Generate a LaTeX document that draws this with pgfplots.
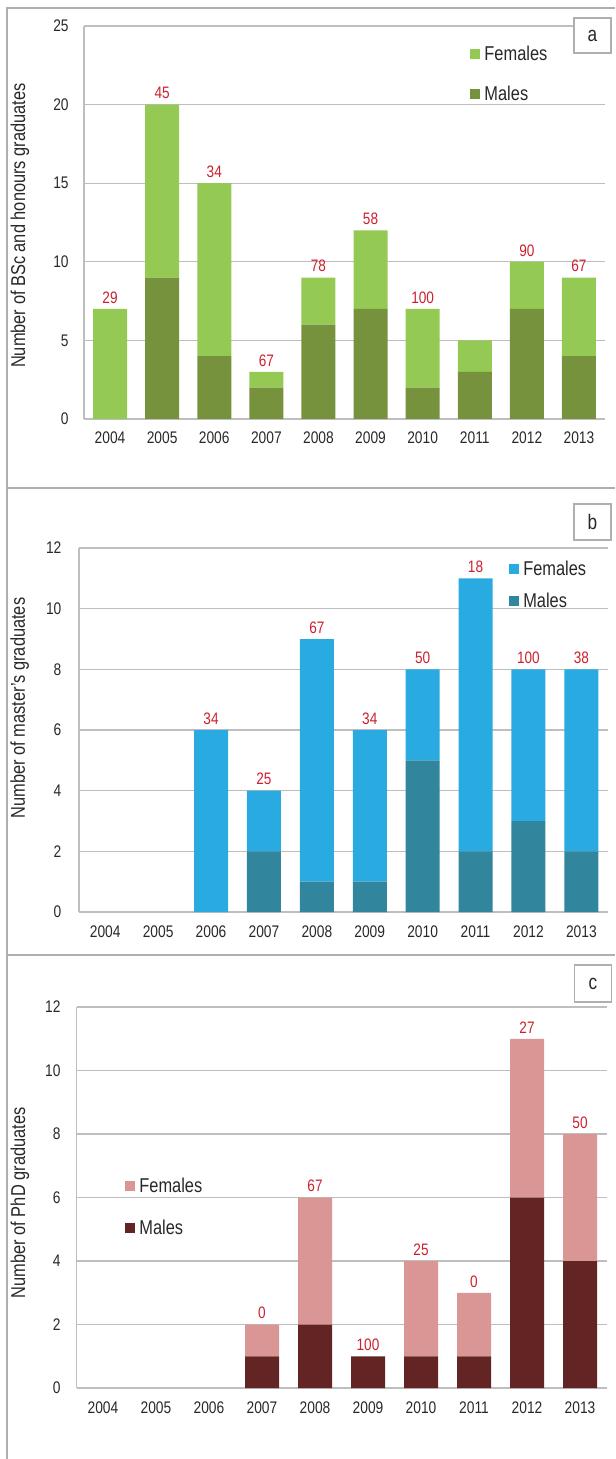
\documentclass[border=0pt]{standalone}
\usepackage{pgfplots}
\usepackage{pgfplotstable}
\pgfplotsset{compat=1.18}
\usepackage{fontspec}
\setmainfont{Liberation Sans}[FakeStretch=0.82]

\definecolor{femA}{RGB}{148,201,84}
\definecolor{malA}{RGB}{119,146,60}
\definecolor{femB}{RGB}{41,171,226}
\definecolor{malB}{RGB}{49,133,156}
\definecolor{femC}{RGB}{217,150,148}
\definecolor{malC}{RGB}{99,37,35}
\definecolor{lblred}{RGB}{204,32,46}
\definecolor{txt}{RGB}{40,40,40}
\definecolor{gridc}{RGB}{190,190,190}
\definecolor{framec}{RGB}{175,175,175}

% x = year index (0 = 2004), pct = red label above each bar
\pgfplotstableread{
x males females total pct
0 0 7  7  29
1 9 11 20 45
2 4 11 15 34
3 2 1  3  67
4 6 3  9  78
5 7 5  12 58
6 2 5  7  100
7 3 2  5  {}
8 7 3  10 90
9 4 5  9  67
}\bsc

\pgfplotstableread{
x males females total pct
2 0 6 6  34
3 2 2 4  25
4 1 8 9  67
5 1 5 6  34
6 5 3 8  50
7 2 9 11 18
8 3 5 8  100
9 2 6 8  38
}\masters

\pgfplotstableread{
x males females total pct
3 1 1 2  0
4 2 4 6  67
5 1 0 1  100
6 1 3 4  25
7 1 2 3  0
8 6 5 11 27
9 4 4 8  50
}\phd

\pgfplotsset{
  sqlegend/.style={legend image code/.code={\fill[##1] (0pt,-2pt) rectangle (5pt,3pt);}},
  geomA/.style={at={(42pt,-209.5pt)}, width=260.5pt, height=196.5pt, ymax=25},
  geomB/.style={at={(39.4pt,-456pt)}, width=264.5pt, height=182pt, ymax=12},
  geomC/.style={at={(38.25pt,-694pt)}, width=265pt, height=190.5pt, ymax=12},
  base/.style={scale only axis, anchor=south west, xmin=-0.5, xmax=9.5, ymin=0},
  grad/.style={
    base,
    ybar stacked, bar width=17pt,
    xtick={0,...,9},
    xticklabels={2004,2005,2006,2007,2008,2009,2010,2011,2012,2013},
    axis x line*=bottom, axis y line*=left,
    axis line style={draw=gridc, line width=0.7pt},
    ymajorgrids, grid style={draw=gridc, line width=0.6pt},
    major tick length=0pt,
    tick label style={font=\fontsize{8.4}{10}\selectfont, text=txt},
    xticklabel style={anchor=base, yshift=-12.5pt, inner sep=0pt},
    yticklabel style={anchor=east, inner sep=0pt},
    /pgf/number format/assume math mode=true,
    ylabel style={font=\fontsize{10}{12}\selectfont, text=txt, anchor=center, inner sep=0pt},
    sqlegend,
    reverse legend,
    legend cell align=left,
    legend style={draw=none, fill=none, inner sep=0pt, column sep=2pt,
      font=\fontsize{10}{12}\selectfont, text=txt, nodes={inner sep=0pt}},
  },
  labels/.style={base, hide axis},
  male/.style={fill=#1, draw=none, sqlegend},
  female/.style={fill=#1, draw=none, sqlegend},
  pctlabel/.style={draw=none, mark=none, nodes near coords, point meta=explicit symbolic,
    every node near coord/.append style={font=\fontsize{8.3}{10}\selectfont,
      text=lblred, inner sep=0pt, anchor=south, yshift=2.6pt}},
}

\begin{document}
\begin{tikzpicture}
\useasboundingbox (0pt,0pt) rectangle (307.5pt,-729.5pt);

% panel a
\begin{axis}[grad, geomA,
  ytick={0,5,...,25},
  yticklabel style={xshift=-7.5pt},
  ylabel={Number of BSc and honours graduates},
  ylabel style={at={(axis description cs:-0.1228,0.492)}},
  legend style={at={(axis description cs:0.741,0.949)}, anchor=north west, row sep=11.2pt},
]
\addplot[male=malA] table[x=x, y=males] {\bsc};
\addlegendentry{Males}
\addplot[female=femA] table[x=x, y=females] {\bsc};
\addlegendentry{Females}
\end{axis}
\begin{axis}[labels, geomA]
\addplot[pctlabel] table[x=x, y=total, meta=pct] {\bsc};
\end{axis}

% panel b
\begin{axis}[grad, geomB,
  ytick={0,2,...,12},
  yticklabel style={xshift=-8.5pt},
  ylabel={Number of master's graduates},
  ylabel style={at={(axis description cs:-0.1115,0.56)}},
  legend style={at={(axis description cs:0.813,0.964)}, anchor=north west, row sep=7.2pt},
]
\addplot[male=malB] table[x=x, y=males] {\masters};
\addlegendentry{Males}
\addplot[female=femB] table[x=x, y=females] {\masters};
\addlegendentry{Females}
\end{axis}
\begin{axis}[labels, geomB]
\addplot[pctlabel] table[x=x, y=total, meta=pct] {\masters};
\end{axis}

% panel c
\begin{axis}[grad, geomC,
  ytick={0,2,...,12},
  yticklabel style={xshift=-7.8pt},
  ylabel={Number of PhD graduates},
  ylabel style={at={(axis description cs:-0.1066,0.486)}},
  legend style={at={(axis description cs:0.0915,0.551)}, anchor=north west, row sep=12.2pt},
]
\addplot[male=malC] table[x=x, y=males] {\phd};
\addlegendentry{Males}
\addplot[female=femC] table[x=x, y=females] {\phd};
\addlegendentry{Females}
\end{axis}
\begin{axis}[labels, geomC]
\addplot[pctlabel] table[x=x, y=total, meta=pct] {\phd};
\end{axis}

% frame lines
\draw[framec, line width=0.75pt] (3.5pt,-729.5pt) -- (3.5pt,-4pt) -- (307.5pt,-4pt);
\draw[framec, line width=0.75pt] (3.5pt,-244pt) -- (307.5pt,-244pt);
\draw[framec, line width=0.75pt] (3.5pt,-477.5pt) -- (307.5pt,-477.5pt);

% panel letters
\tikzset{panellbl/.style={draw=framec, fill=white, line width=0.6pt, inner sep=0pt,
  minimum width=18.5pt, text=txt, font=\fontsize{10.5}{12}\selectfont}}
\node[panellbl, minimum height=17.5pt] at (296.25pt,-17.75pt) {a};
\node[panellbl, minimum height=18pt] at (296.25pt,-261pt) {b};
\node[panellbl, minimum height=18.5pt] at (296.4pt,-491.75pt) {c};
\end{tikzpicture}
\end{document}
